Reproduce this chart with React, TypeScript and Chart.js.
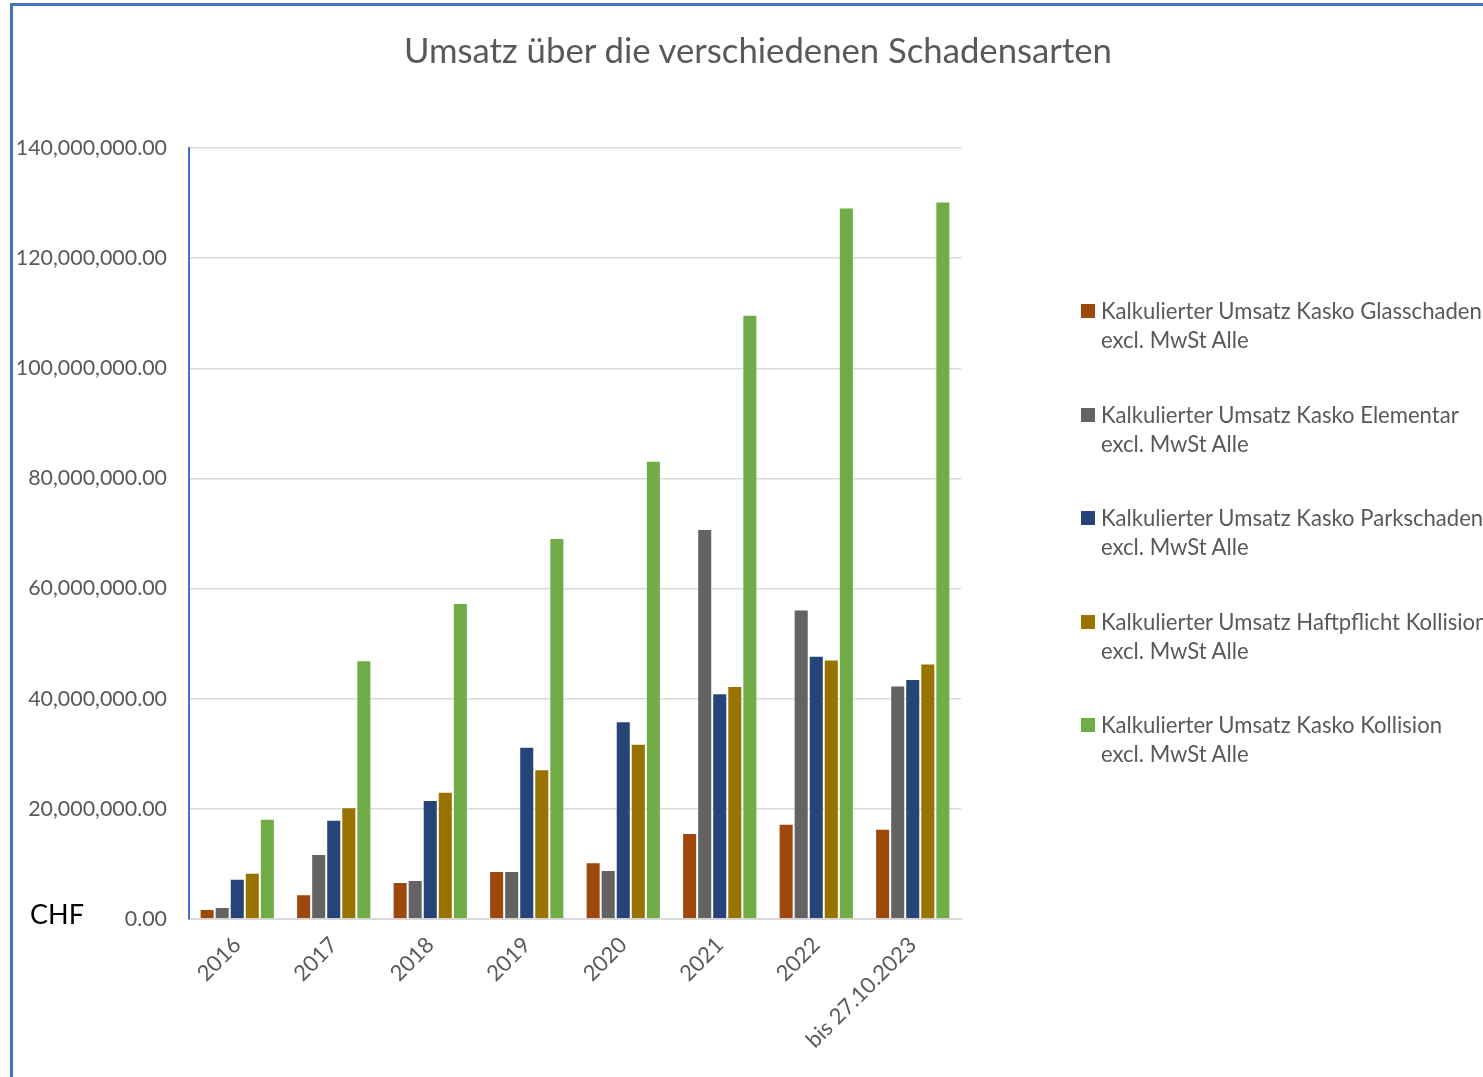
import React, { useEffect, useRef } from "react";
import { Chart, registerables } from "chart.js";

Chart.register(...registerables);

const categories = ["2016", "2017", "2018", "2019", "2020", "2021", "2022", "bis 27.10.2023"];
const seriesNames = [
  "Kalkulierter Umsatz Kasko Glasschaden excl. MwSt Alle",
  "Kalkulierter Umsatz Kasko Elementar excl. MwSt Alle",
  "Kalkulierter Umsatz Kasko Parkschaden excl. MwSt Alle",
  "Kalkulierter Umsatz Haftpflicht Kollision excl. MwSt Alle",
  "Kalkulierter Umsatz Kasko Kollision excl. MwSt Alle",
];
const legendLine1 = [
  "Kalkulierter Umsatz Kasko Glasschaden",
  "Kalkulierter Umsatz Kasko Elementar",
  "Kalkulierter Umsatz Kasko Parkschaden",
  "Kalkulierter Umsatz Haftpflicht Kollision",
  "Kalkulierter Umsatz Kasko Kollision",
];
const legendLine2 = "excl. MwSt Alle";
const glasschaden = [1.8e6, 4.5e6, 6.7e6, 8.7e6, 10.3e6, 15.6e6, 17.3e6, 16.4e6];
const elementar = [2.2e6, 11.8e6, 7.1e6, 8.7e6, 8.9e6, 70.8e6, 56.2e6, 42.4e6];
const parkschaden = [7.3e6, 18.0e6, 21.6e6, 31.3e6, 35.9e6, 41.0e6, 47.8e6, 43.6e6];
const haftpflicht = [8.4e6, 20.3e6, 23.1e6, 27.2e6, 31.8e6, 42.3e6, 47.1e6, 46.4e6];
const kollision = [18.2e6, 47.0e6, 57.4e6, 69.2e6, 83.2e6, 109.7e6, 129.2e6, 130.3e6];
const seriesValues = [glasschaden, elementar, parkschaden, haftpflicht, kollision];
const colors = ["#9E480E", "#636363", "#264478", "#997300", "#70AD47"];
const yMin = 0;
const yMax = 140e6;
const yStep = 20e6;

const FONT = "Lato, 'Open Sans', sans-serif";
const TEXT = "#595959";

const W = 1483;
const H = 1077;
const PLOT_LEFT = 189;
const PLOT_RIGHT = 961;
const PLOT_TOP = 148;
const PLOT_BOTTOM = 919;

function fmt(v: number) {
  return v.toLocaleString("en-US", { minimumFractionDigits: 2, maximumFractionDigits: 2 });
}

export default function App() {
  const ref = useRef<HTMLCanvasElement | null>(null);

  useEffect(() => {
    document.body.style.margin = "0";
    const ctx = ref.current!.getContext("2d")!;
    const chart = new Chart(ctx, {
      type: "bar",
      data: {
        labels: categories,
        datasets: seriesNames.map((name, i) => ({
          label: name,
          data: seriesValues[i],
          backgroundColor: colors[i],
          borderColor: "rgba(255,255,255,0.45)",
          borderWidth: 1,
          borderSkipped: "bottom",
          categoryPercentage: 0.78,
          barPercentage: 1,
        })),
      },
      options: {
        animation: false,
        responsive: false,
        maintainAspectRatio: false,
        layout: {
          padding: { left: 0, right: W - PLOT_RIGHT, top: PLOT_TOP, bottom: 0 },
        },
        plugins: {
          legend: { display: false },
          title: { display: false },
          tooltip: { enabled: false },
        },
        scales: {
          x: {
            afterFit: (s: any) => {
              s.height = H - PLOT_BOTTOM;
            },
            grid: { display: false, drawTicks: false },
            border: { display: true, color: "#d9d9d9", width: 2 },
            ticks: {
              color: TEXT,
              font: { family: FONT, size: 22 },
              maxRotation: 45,
              minRotation: 45,
              padding: 13,
              autoSkip: false,
            },
          },
          y: {
            min: yMin,
            max: yMax,
            afterFit: (s: any) => {
              s.width = PLOT_LEFT;
            },
            grid: { color: "#d9d9d9", lineWidth: 1.5, drawTicks: false },
            border: { display: true, color: "#4472C4", width: 2 },
            ticks: {
              stepSize: yStep,
              color: TEXT,
              font: { family: FONT, size: 21.4 },
              padding: 22,
              callback: (v: any) => fmt(Number(v)),
            },
          },
        },
      },
    });
    return () => chart.destroy();
  }, []);

  return (
    <div
      style={{
        position: "absolute",
        left: 0,
        top: 0,
        width: W,
        height: H,
        overflow: "hidden",
        background: "#fff",
        fontFamily: FONT,
      }}
    >
      <div
        style={{
          position: "absolute",
          left: 10,
          top: 3,
          width: W + 20,
          height: H + 20,
          borderLeft: "3px solid #4472C4",
          borderTop: "3px solid #4472C4",
          boxSizing: "border-box",
        }}
      />
      <canvas ref={ref} width={W} height={H} style={{ position: "absolute", left: 0, top: 0 }} />
      <div
        style={{
          position: "absolute",
          left: 0,
          width: 1516,
          top: 28,
          textAlign: "center",
          fontSize: 34.7,
          color: TEXT,
          lineHeight: "44px",
          whiteSpace: "nowrap",
        }}
      >
        Umsatz über die verschiedenen Schadensarten
      </div>
      <div
        style={{
          position: "absolute",
          left: 30,
          top: 896,
          fontSize: 27,
          color: "#000",
          lineHeight: "36px",
        }}
      >
        CHF
      </div>
      {legendLine1.map((t, i) => (
        <div
          key={i}
          style={{
            position: "absolute",
            left: 1081,
            top: 296 + i * 103.5,
            whiteSpace: "nowrap",
            color: TEXT,
            fontSize: 22.1,
            lineHeight: "29px",
          }}
        >
          <span
            style={{
              position: "absolute",
              left: 0,
              top: 8,
              width: 14,
              height: 14,
              background: colors[i],
            }}
          />
          <div style={{ paddingLeft: 20 }}>{t}</div>
          <div style={{ paddingLeft: 20 }}>{legendLine2}</div>
        </div>
      ))}
    </div>
  );
}
